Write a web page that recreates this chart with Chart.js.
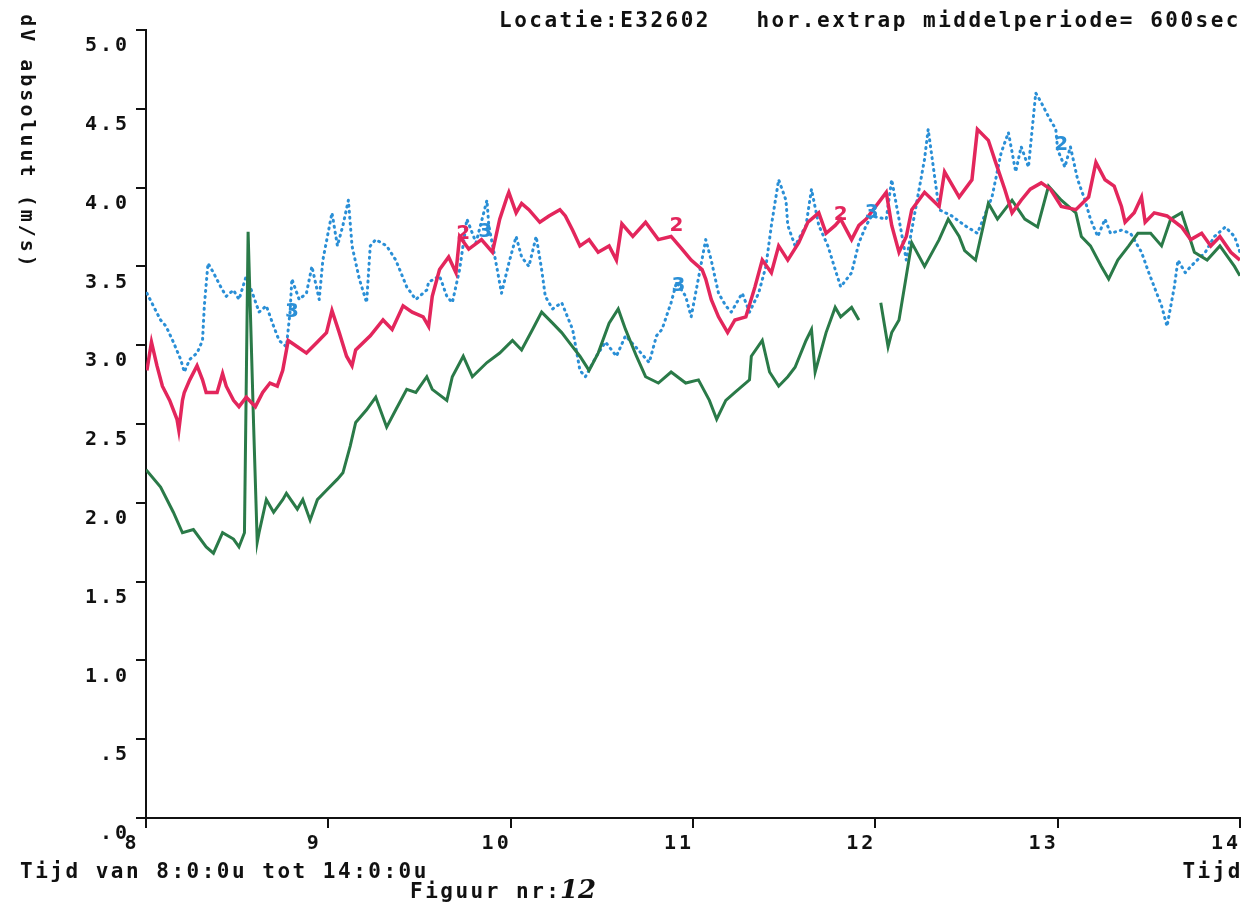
<!DOCTYPE html>
<html>
<head>
<meta charset="utf-8">
<script src="https://cdn.jsdelivr.net/npm/chart.js@4.4.0/dist/chart.umd.min.js"></script>
<style>
  html, body { margin: 0; padding: 0; background: #fff; }
  canvas { display: block; }
</style>
</head>
<body>
<canvas id="lineChart" width="1256" height="911"></canvas>
<script>
// tick labels
var xTickLabels = ["8", "9", "10", "11", "12", "13", "14"];
var yTickLabels = [".0", ".5", "1.0", "1.5", "2.0", "2.5", "3.0", "3.5", "4.0", "4.5", "5.0"];

// series 1 (green), time in hours
var greenTimes = [
  8.00, 8.08, 8.15, 8.20, 8.26, 8.33, 8.37, 8.42, 8.48, 8.51,
  8.54, 8.56, 8.59, 8.61, 8.62, 8.66, 8.70, 8.75, 8.77, 8.83,
  8.86, 8.90, 8.94, 8.99, 9.05, 9.08, 9.12, 9.15, 9.21, 9.26,
  9.32, 9.37, 9.43, 9.48, 9.54, 9.57, 9.65, 9.68, 9.74, 9.79,
  9.87, 9.94, 10.01, 10.06, 10.12, 10.17, 10.23, 10.28, 10.32, 10.38,
  10.43, 10.48, 10.54, 10.59, 10.63, 10.69, 10.74, 10.81, 10.88, 10.96,
  11.03, 11.09, 11.13, 11.18, 11.23, 11.31, 11.32, 11.38, 11.42, 11.47,
  11.52, 11.56, 11.62, 11.65, 11.67, 11.73, 11.78, 11.81, 11.87, 11.91,
  11.96, 12.03, 12.07, 12.09, 12.13, 12.20, 12.27, 12.35, 12.40, 12.46, 12.49,
  12.55, 12.62, 12.67, 12.75, 12.82, 12.89, 12.95, 13.02, 13.10, 13.13,
  13.18, 13.24, 13.28, 13.33, 13.39, 13.44, 13.51, 13.57, 13.62, 13.68,
  13.75, 13.82, 13.89, 13.97, 14.00
];
var greenValues = [
  2.21, 2.10, 1.94, 1.81, 1.83, 1.72, 1.68, 1.81, 1.77, 1.72,
  1.81, 3.72, 2.50, 1.75, 1.81, 2.02, 1.94, 2.02, 2.06, 1.96,
  2.02, 1.89, 2.02, 2.08, 2.15, 2.19, 2.36, 2.51, 2.59, 2.67,
  2.48, 2.59, 2.72, 2.70, 2.80, 2.72, 2.65, 2.80, 2.93, 2.80,
  2.89, 2.95, 3.03, 2.97, 3.10, 3.21, 3.14, 3.08, 3.02, 2.93,
  2.84, 2.95, 3.14, 3.23, 3.10, 2.93, 2.80, 2.76, 2.83, 2.76,
  2.78, 2.65, 2.53, 2.65, 2.70, 2.78, 2.93, 3.03, 2.83, 2.74,
  2.80, 2.86, 3.03, 3.10, 2.83, 3.08, 3.24, 3.18, 3.24, 3.16,
  null, 3.27, 2.99, 3.08, 3.16, 3.65, 3.50, 3.67, 3.80, 3.69, 3.60,
  3.54, 3.90, 3.80, 3.92, 3.80, 3.75, 4.01, 3.92, 3.84, 3.69,
  3.63, 3.50, 3.42, 3.54, 3.63, 3.71, 3.71, 3.63, 3.80, 3.84,
  3.59, 3.54, 3.63, 3.50, 3.44
];

// series 2 (red)
var redTimes = [
  8.005, 8.03, 8.06, 8.09, 8.13, 8.17, 8.18, 8.20, 8.21, 8.24,
  8.28, 8.31, 8.33, 8.39, 8.42, 8.44, 8.48, 8.51, 8.55, 8.60,
  8.64, 8.68, 8.72, 8.75, 8.78, 8.83, 8.88, 8.94, 8.99, 9.02,
  9.06, 9.10, 9.13, 9.15, 9.23, 9.30, 9.35, 9.41, 9.46, 9.52,
  9.55, 9.57, 9.61, 9.66, 9.70, 9.72, 9.77, 9.84, 9.90, 9.94,
  9.98, 9.99, 10.03, 10.06, 10.10, 10.16, 10.21, 10.27, 10.30, 10.34,
  10.38, 10.43, 10.48, 10.54, 10.58, 10.61, 10.67, 10.74, 10.81, 10.88,
  10.94, 10.99, 11.05, 11.07, 11.10, 11.14, 11.19, 11.23, 11.29, 11.34,
  11.38, 11.43, 11.47, 11.52, 11.58, 11.63, 11.69, 11.73, 11.78, 11.81,
  11.87, 11.91, 11.95, 12.06, 12.09, 12.13, 12.17, 12.20, 12.27, 12.35,
  12.38, 12.46, 12.53, 12.56, 12.62, 12.66, 12.71, 12.75, 12.80, 12.85,
  12.91, 12.96, 13.02, 13.10, 13.17, 13.21, 13.26, 13.31, 13.35, 13.37,
  13.42, 13.46, 13.48, 13.53, 13.60, 13.68, 13.73, 13.79, 13.84, 13.89,
  13.95, 14.00
];
var redValues = [
  2.84, 3.02, 2.87, 2.74, 2.65, 2.53, 2.46, 2.65, 2.70, 2.78,
  2.87, 2.78, 2.70, 2.70, 2.82, 2.74, 2.65, 2.61, 2.67, 2.61,
  2.70, 2.76, 2.74, 2.84, 3.03, 2.99, 2.95, 3.02, 3.08, 3.22,
  3.08, 2.93, 2.87, 2.97, 3.06, 3.16, 3.10, 3.25, 3.21, 3.18,
  3.12, 3.31, 3.48, 3.56, 3.46, 3.69, 3.61, 3.67, 3.59, 3.80,
  3.94, 3.97, 3.84, 3.90, 3.86, 3.78, 3.82, 3.86, 3.82, 3.73,
  3.63, 3.67, 3.59, 3.63, 3.54, 3.77, 3.69, 3.78, 3.67, 3.69,
  3.61, 3.54, 3.48, 3.42, 3.29, 3.18, 3.08, 3.16, 3.18, 3.37,
  3.54, 3.46, 3.63, 3.54, 3.65, 3.78, 3.84, 3.71, 3.76, 3.80,
  3.67, 3.76, 3.80, 3.97, 3.76, 3.59, 3.69, 3.86, 3.97, 3.88,
  4.10, 3.94, 4.05, 4.37, 4.30, 4.16, 3.99, 3.84, 3.92, 3.99,
  4.03, 3.99, 3.88, 3.86, 3.94, 4.16, 4.05, 4.01, 3.88, 3.78,
  3.84, 3.94, 3.78, 3.84, 3.82, 3.75, 3.67, 3.71, 3.63, 3.69,
  3.59, 3.54
];

// series 3 (blue)
var blueTimes = [
  8.005, 8.04, 8.08, 8.11, 8.15, 8.19, 8.21, 8.24, 8.28, 8.31,
  8.32, 8.34, 8.37, 8.41, 8.44, 8.48, 8.51, 8.55, 8.59, 8.62,
  8.66, 8.70, 8.73, 8.77, 8.79, 8.80, 8.84, 8.88, 8.91, 8.95,
  8.97, 9.02, 9.05, 9.08, 9.11, 9.13, 9.17, 9.21, 9.23, 9.26,
  9.32, 9.37, 9.43, 9.48, 9.54, 9.55, 9.61, 9.65, 9.68, 9.72,
  9.76, 9.81, 9.87, 9.88, 9.92, 9.95, 9.99, 10.03, 10.06, 10.10,
  10.14, 10.17, 10.19, 10.23, 10.28, 10.34, 10.38, 10.41, 10.47, 10.52,
  10.58, 10.63, 10.70, 10.76, 10.80, 10.83, 10.88, 10.91, 10.96, 10.99,
  11.07, 11.10, 11.14, 11.18, 11.21, 11.27, 11.31, 11.36, 11.40, 11.43,
  11.47, 11.51, 11.52, 11.56, 11.62, 11.65, 11.69, 11.74, 11.78, 11.81,
  11.87, 11.91, 11.95, 11.98, 12.06, 12.09, 12.13, 12.17, 12.27, 12.29,
  12.35, 12.42, 12.49, 12.56, 12.64, 12.69, 12.73, 12.77, 12.80, 12.84,
  12.88, 12.91, 12.95, 12.99, 13.00, 13.04, 13.07, 13.11, 13.15, 13.18,
  13.22, 13.26, 13.29, 13.35, 13.40, 13.46, 13.50, 13.53, 13.57, 13.60,
  13.64, 13.66, 13.70, 13.73, 13.81, 13.86, 13.92, 13.97, 14.00
];
var blueValues = [
  3.33, 3.25, 3.16, 3.12, 3.02, 2.91, 2.83, 2.91, 2.95, 3.03,
  3.25, 3.52, 3.46, 3.37, 3.31, 3.35, 3.29, 3.44, 3.31, 3.21,
  3.25, 3.12, 3.03, 2.99, 3.21, 3.42, 3.29, 3.33, 3.50, 3.29,
  3.54, 3.84, 3.63, 3.76, 3.92, 3.63, 3.42, 3.27, 3.63, 3.67,
  3.63, 3.54, 3.37, 3.29, 3.35, 3.40, 3.44, 3.31, 3.27, 3.48,
  3.80, 3.65, 3.92, 3.76, 3.52, 3.33, 3.52, 3.69, 3.56, 3.50,
  3.69, 3.48, 3.31, 3.23, 3.27, 3.10, 2.84, 2.80, 2.93, 3.02,
  2.93, 3.06, 2.97, 2.89, 3.06, 3.10, 3.27, 3.40, 3.31, 3.18,
  3.67, 3.54, 3.33, 3.25, 3.21, 3.33, 3.21, 3.33, 3.50, 3.76,
  4.05, 3.92, 3.76, 3.63, 3.76, 3.99, 3.76, 3.63, 3.48, 3.37,
  3.46, 3.65, 3.76, 3.82, 3.80, 4.05, 3.80, 3.54, 4.18, 4.37,
  3.86, 3.82, 3.76, 3.71, 3.94, 4.22, 4.35, 4.10, 4.26, 4.13,
  4.60, 4.54, 4.45, 4.37, 4.24, 4.13, 4.26, 4.05, 3.92, 3.80,
  3.69, 3.80, 3.71, 3.73, 3.71, 3.59, 3.46, 3.37, 3.25, 3.12,
  3.37, 3.54, 3.46, 3.50, 3.59, 3.69, 3.75, 3.69, 3.59
];

// curve numbers written along the lines
var redMarkTimes = [9.74, 10.91, 11.81];
var redMarkValues = [3.71, 3.76, 3.83];
var redMarkTexts = ["2", "2", "2"];
var blueMarkTimes = [8.80, 9.86, 10.92, 11.98, 13.02];
var blueMarkValues = [3.21, 3.72, 3.38, 3.84, 4.27];
var blueMarkTexts = ["3", "3", "3", "3", "2"];

var RED = "#e3265c";
var BLUE = "#2a8fd6";
var GREEN = "#2a7a48";
var MONO = "'DejaVu Sans Mono', 'Liberation Mono', monospace";

function toPoints(times, values) {
  return times.map(function (t, i) {
    return { x: t, y: values[i] };
  });
}

var textPlugin = {
  id: "plotTexts",
  beforeDraw: function (chart) {
    chart.ctx.letterSpacing = "3px";
  },
  afterDatasetsDraw: function (chart) {
    var ctx = chart.ctx;
    var xs = chart.scales.x;
    var ys = chart.scales.y;
    ctx.save();
    ctx.letterSpacing = "0px";
    ctx.font = "bold 20px 'DejaVu Sans', sans-serif";
    ctx.textAlign = "center";
    ctx.textBaseline = "middle";
    ctx.fillStyle = RED;
    redMarkTimes.forEach(function (t, i) {
      ctx.fillText(redMarkTexts[i], xs.getPixelForValue(t), ys.getPixelForValue(redMarkValues[i]));
    });
    ctx.fillStyle = BLUE;
    blueMarkTimes.forEach(function (t, i) {
      ctx.fillText(blueMarkTexts[i], xs.getPixelForValue(t), ys.getPixelForValue(blueMarkValues[i]));
    });
    ctx.restore();
  },
  afterDraw: function (chart) {
    var ctx = chart.ctx;
    ctx.save();
    ctx.fillStyle = "#111";
    ctx.font = "bold 21px " + MONO;
    ctx.letterSpacing = "2.5px";
    ctx.textBaseline = "middle";

    ctx.textAlign = "right";
    ctx.fillText("Locatie:E32602   hor.extrap middelperiode= 600sec", 1241, 22);
    ctx.fillText("Tijd", 1243, 873);

    ctx.textAlign = "left";
    ctx.fillText("Tijd van 8:0:0u tot 14:0:0u", 20, 873);
    ctx.fillText("Figuur nr:", 410, 893);
    ctx.font = "bold italic 26px 'DejaVu Serif', serif";
    ctx.letterSpacing = "0px";
    ctx.fillText("12", 560, 891);

    // y-axis title, reading top to bottom
    ctx.font = "bold 20px " + MONO;
    ctx.letterSpacing = "3px";
    ctx.translate(26, 142);
    ctx.rotate(Math.PI / 2);
    ctx.textAlign = "center";
    ctx.fillText("dV absoluut (m/s)", 0, 0);
    ctx.restore();
    ctx.letterSpacing = "0px";
  }
};

window.onload = function () {
  var ctxLine = document.getElementById("lineChart").getContext("2d");
  var lineChart = new Chart(ctxLine, {
    type: "line",
    data: {
      datasets: [
        {
          label: "2",
          data: toPoints(redTimes, redValues),
          borderColor: RED,
          borderWidth: 3.5,
          pointRadius: 0,
          tension: 0,
        },
        {
          label: "1",
          data: toPoints(greenTimes, greenValues),
          borderColor: GREEN,
          borderWidth: 3,
          pointRadius: 0,
          tension: 0,
        },
        {
          label: "3",
          data: toPoints(blueTimes, blueValues),
          borderColor: BLUE,
          borderWidth: 3,
          borderDash: [1, 5],
          borderCapStyle: "round",
          borderJoinStyle: "round",
          pointRadius: 0,
          tension: 0,
        },
      ],
    },
    options: {
      responsive: false,
      animation: false,
      layout: { padding: { top: 30, right: 14, left: 0, bottom: 0 } },
      plugins: {
        legend: { display: false },
        tooltip: { enabled: false },
      },
      scales: {
        x: {
          type: "linear",
          min: 8,
          max: 14,
          afterFit: function (scale) { scale.height = 93; },
          border: { color: "#111", width: 2 },
          grid: { drawOnChartArea: false, tickLength: 10, color: "#111", lineWidth: 2 },
          ticks: {
            stepSize: 1,
            color: "#111",
            font: { family: MONO, size: 20, weight: "bold" },
            padding: 4,
            labelOffset: -14,
            maxRotation: 0,
            callback: function (v, i) { return xTickLabels[i]; },
          },
        },
        y: {
          min: 0,
          max: 5,
          afterFit: function (scale) { scale.width = 146; },
          border: { color: "#111", width: 2 },
          grid: { drawOnChartArea: false, tickLength: 10, color: "#111", lineWidth: 2 },
          ticks: {
            stepSize: 0.5,
            color: "#111",
            font: { family: MONO, size: 20, weight: "bold" },
            padding: 6,
            labelOffset: 16,
            callback: function (v, i) { return yTickLabels[i]; },
          },
        },
      },
    },
    plugins: [textPlugin],
  });
};
</script>
</body>
</html>
